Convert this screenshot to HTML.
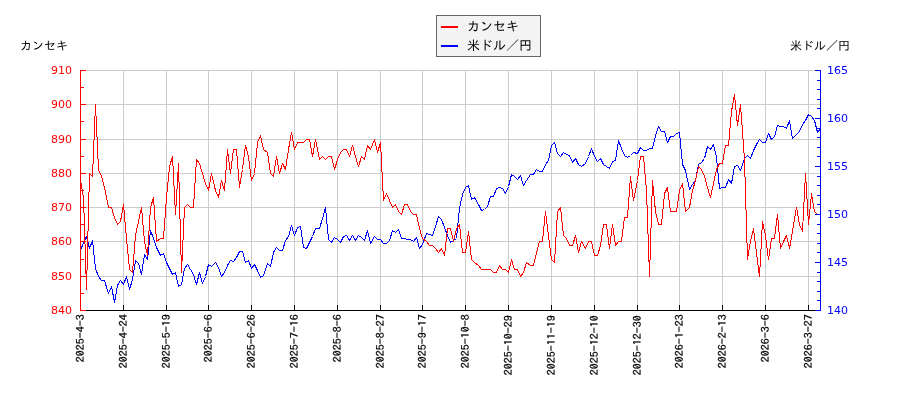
<!DOCTYPE html>
<html lang="ja"><head><meta charset="utf-8"><title>カンセキ と 米ドル／円</title>
<style>
html,body{margin:0;padding:0;background:#fff;}
body{width:900px;height:400px;overflow:hidden;}
svg{display:block;}
.jp{font-family:"IPAGothic","Noto Sans CJK JP",sans-serif;font-size:12px;fill:#000;}
.yl{font-family:"DejaVu Sans","Liberation Sans",sans-serif;font-size:11px;}
.xl{font-family:"IPAGothic","Noto Sans CJK JP",monospace;font-size:12px;fill:#000;stroke:#000;stroke-width:0.25px;}
</style></head><body>
<svg width="900" height="400" viewBox="0 0 900 400">
<rect width="900" height="400" fill="#fff"/>
<path d="M123.5 70.0V310.5M166.5 70.0V310.5M208.5 70.0V310.5M251.5 70.0V310.5M294.5 70.0V310.5M337.5 70.0V310.5M380.5 70.0V310.5M422.5 70.0V310.5M465.5 70.0V310.5M508.5 70.0V310.5M551.5 70.0V310.5M594.5 70.0V310.5M637.5 70.0V310.5M679.5 70.0V310.5M722.5 70.0V310.5M765.5 70.0V310.5M808.5 70.0V310.5M80.5 276.5H820.5M80.5 241.5H820.5M80.5 207.5H820.5M80.5 173.5H820.5M80.5 139.5H820.5M80.5 104.5H820.5M80.5 70.5H820.5" stroke="#cccccc" stroke-width="1" fill="none" shape-rendering="crispEdges"/>
<path d="M80.50 250.50L83.50 242.50L86.50 236.50L89.50 248.50L92.50 240.50L95.50 268.50L98.50 276.50L101.50 280.50L104.50 280.50L108.50 293.50L111.50 286.50L114.50 302.50L117.50 285.50L120.50 280.50L123.50 284.50L126.50 276.50L129.50 289.50L132.50 279.50L135.50 260.50L138.50 263.50L141.50 274.50L144.50 254.50L147.50 259.50L150.50 230.50L153.50 238.50L156.50 247.50L160.50 255.50L163.50 253.50L166.50 262.50L169.50 268.50L172.50 274.50L175.50 272.50L178.50 286.50L181.50 284.50L184.50 268.50L187.50 264.50L190.50 269.50L193.50 274.50L196.50 284.50L199.50 272.50L202.50 283.50L205.50 276.50L208.50 264.50L211.50 266.50L215.50 262.50L218.50 267.50L221.50 276.50L224.50 272.50L227.50 265.50L230.50 260.50L233.50 261.50L236.50 257.50L239.50 251.50L242.50 251.50L245.50 262.50L248.50 260.50L251.50 268.50L254.50 264.50L257.50 270.50L260.50 277.50L263.50 275.50L267.50 263.50L270.50 266.50L273.50 252.50L276.50 247.50L279.50 250.50L282.50 250.50L285.50 240.50L288.50 236.50L291.50 225.50L294.50 235.50L297.50 227.50L300.50 226.50L303.50 247.50L306.50 248.50L309.50 242.50L312.50 236.50L315.50 228.50L319.50 228.50L322.50 218.50L325.50 207.50L328.50 239.50L331.50 242.50L334.50 237.50L337.50 239.50L340.50 242.50L343.50 236.50L346.50 235.50L349.50 240.50L352.50 235.50L355.50 240.50L358.50 235.50L361.50 237.50L364.50 240.50L367.50 230.50L370.50 243.50L374.50 236.50L377.50 239.50L380.50 239.50L383.50 243.50L386.50 243.50L389.50 240.50L392.50 230.50L395.50 232.50L398.50 229.50L401.50 238.50L404.50 238.50L407.50 239.50L410.50 239.50L413.50 241.50L416.50 237.50L419.50 248.50L422.50 244.50L426.50 233.50L429.50 234.50L432.50 235.50L435.50 226.50L438.50 216.50L441.50 219.50L444.50 227.50L447.50 235.50L450.50 242.50L453.50 240.50L456.50 238.50L459.50 208.50L462.50 194.50L465.50 187.50L468.50 185.50L471.50 199.50L474.50 197.50L478.50 204.50L481.50 210.50L484.50 209.50L487.50 206.50L490.50 196.50L493.50 196.50L496.50 188.50L499.50 187.50L502.50 188.50L505.50 193.50L508.50 186.50L511.50 174.50L514.50 176.50L517.50 179.50L520.50 175.50L523.50 185.50L526.50 180.50L530.50 174.50L533.50 174.50L536.50 169.50L539.50 171.50L542.50 171.50L545.50 164.50L548.50 160.50L551.50 145.50L554.50 142.50L557.50 153.50L560.50 156.50L563.50 152.50L566.50 154.50L569.50 155.50L572.50 162.50L575.50 158.50L578.50 164.50L581.50 166.50L585.50 163.50L588.50 156.50L591.50 148.50L594.50 156.50L597.50 161.50L600.50 158.50L603.50 164.50L606.50 166.50L609.50 168.50L612.50 161.50L615.50 160.50L618.50 140.50L621.50 148.50L624.50 155.50L627.50 157.50L630.50 155.50L633.50 152.50L637.50 153.50L640.50 147.50L643.50 150.50L646.50 150.50L649.50 148.50L652.50 148.50L655.50 135.50L658.50 126.50L661.50 131.50L664.50 131.50L667.50 142.50L670.50 136.50L673.50 136.50L676.50 133.50L679.50 132.50L682.50 164.50L685.50 170.50L689.50 189.50L692.50 184.50L695.50 180.50L698.50 164.50L701.50 162.50L704.50 158.50L707.50 146.50L710.50 149.50L713.50 144.50L716.50 157.50L719.50 188.50L722.50 187.50L725.50 187.50L728.50 179.50L731.50 183.50L734.50 166.50L737.50 165.50L740.50 170.50L744.50 158.50L747.50 155.50L750.50 158.50L753.50 150.50L756.50 144.50L759.50 139.50L762.50 142.50L765.50 142.50L768.50 133.50L771.50 139.50L774.50 136.50L777.50 125.50L780.50 126.50L783.50 126.50L786.50 128.50L789.50 120.50L792.50 138.50L796.50 134.50L799.50 131.50L802.50 124.50L805.50 120.50L808.50 114.50L811.50 116.50L814.50 120.50L817.50 132.50L820.50 128.50" stroke="#0000ff" stroke-width="1" fill="none" stroke-linejoin="round" shape-rendering="crispEdges"/>
<path d="M80.50 180.50L83.50 197.50L86.50 289.50L89.50 173.50L92.50 176.50L95.50 104.50L98.50 169.50L101.50 176.50L104.50 187.50L108.50 207.50L111.50 207.50L114.50 217.50L117.50 224.50L120.50 221.50L123.50 204.50L126.50 238.50L129.50 269.50L132.50 272.50L135.50 235.50L138.50 221.50L141.50 207.50L144.50 241.50L147.50 255.50L150.50 207.50L153.50 197.50L156.50 241.50L160.50 238.50L163.50 238.50L166.50 197.50L169.50 166.50L172.50 156.50L175.50 214.50L178.50 163.50L181.50 272.50L184.50 207.50L187.50 204.50L190.50 207.50L193.50 207.50L196.50 159.50L199.50 163.50L202.50 173.50L205.50 183.50L208.50 190.50L211.50 173.50L215.50 190.50L218.50 197.50L221.50 180.50L224.50 190.50L227.50 149.50L230.50 173.50L233.50 149.50L236.50 149.50L239.50 187.50L242.50 169.50L245.50 145.50L248.50 156.50L251.50 180.50L254.50 173.50L257.50 142.50L260.50 135.50L263.50 149.50L267.50 152.50L270.50 173.50L273.50 176.50L276.50 156.50L279.50 173.50L282.50 163.50L285.50 169.50L288.50 149.50L291.50 132.50L294.50 149.50L297.50 142.50L300.50 142.50L303.50 142.50L306.50 139.50L309.50 139.50L312.50 156.50L315.50 139.50L319.50 159.50L322.50 156.50L325.50 159.50L328.50 156.50L331.50 156.50L334.50 169.50L337.50 159.50L340.50 152.50L343.50 149.50L346.50 149.50L349.50 156.50L352.50 145.50L355.50 156.50L358.50 166.50L361.50 156.50L364.50 159.50L367.50 145.50L370.50 149.50L374.50 139.50L377.50 152.50L380.50 142.50L383.50 200.50L386.50 193.50L389.50 200.50L392.50 207.50L395.50 204.50L398.50 211.50L401.50 214.50L404.50 204.50L407.50 204.50L410.50 211.50L413.50 214.50L416.50 214.50L419.50 228.50L422.50 238.50L426.50 241.50L429.50 245.50L432.50 245.50L435.50 248.50L438.50 252.50L441.50 248.50L444.50 255.50L447.50 228.50L450.50 228.50L453.50 241.50L456.50 228.50L459.50 224.50L462.50 252.50L465.50 252.50L468.50 231.50L471.50 259.50L474.50 262.50L478.50 265.50L481.50 269.50L484.50 269.50L487.50 269.50L490.50 269.50L493.50 272.50L496.50 272.50L499.50 265.50L502.50 269.50L505.50 269.50L508.50 272.50L511.50 259.50L514.50 269.50L517.50 269.50L520.50 276.50L523.50 272.50L526.50 262.50L530.50 265.50L533.50 265.50L536.50 252.50L539.50 241.50L542.50 241.50L545.50 211.50L548.50 235.50L551.50 259.50L554.50 262.50L557.50 211.50L560.50 207.50L563.50 235.50L566.50 238.50L569.50 245.50L572.50 245.50L575.50 235.50L578.50 252.50L581.50 241.50L585.50 248.50L588.50 241.50L591.50 241.50L594.50 255.50L597.50 255.50L600.50 245.50L603.50 224.50L606.50 224.50L609.50 248.50L612.50 224.50L615.50 245.50L618.50 241.50L621.50 241.50L624.50 217.50L627.50 217.50L630.50 176.50L633.50 200.50L637.50 180.50L640.50 156.50L643.50 156.50L646.50 190.50L649.50 276.50L652.50 180.50L655.50 211.50L658.50 224.50L661.50 224.50L664.50 193.50L667.50 187.50L670.50 211.50L673.50 211.50L676.50 211.50L679.50 190.50L682.50 183.50L685.50 211.50L689.50 207.50L692.50 190.50L695.50 180.50L698.50 166.50L701.50 169.50L704.50 176.50L707.50 187.50L710.50 197.50L713.50 183.50L716.50 169.50L719.50 163.50L722.50 163.50L725.50 145.50L728.50 145.50L731.50 111.50L734.50 94.50L737.50 125.50L740.50 104.50L744.50 159.50L747.50 259.50L750.50 241.50L753.50 228.50L756.50 252.50L759.50 276.50L762.50 221.50L765.50 235.50L768.50 259.50L771.50 238.50L774.50 238.50L777.50 214.50L780.50 248.50L783.50 241.50L786.50 235.50L789.50 248.50L792.50 231.50L796.50 207.50L799.50 224.50L802.50 231.50L805.50 173.50L808.50 224.50L811.50 193.50L814.50 211.50L817.50 214.50L820.50 214.50" stroke="#ff0000" stroke-width="1" fill="none" stroke-linejoin="round" shape-rendering="crispEdges"/>
<path d="M80.0 310.5H821.0M80.5 305.0V310.5M123.5 305.0V310.5M166.5 305.0V310.5M208.5 305.0V310.5M251.5 305.0V310.5M294.5 305.0V310.5M337.5 305.0V310.5M380.5 305.0V310.5M422.5 305.0V310.5M465.5 305.0V310.5M508.5 305.0V310.5M551.5 305.0V310.5M594.5 305.0V310.5M637.5 305.0V310.5M679.5 305.0V310.5M722.5 305.0V310.5M765.5 305.0V310.5M808.5 305.0V310.5" stroke="#000" stroke-width="1" fill="none" shape-rendering="crispEdges"/>
<path d="M80.5 70.0V311.0M80.5 310.5h5.5M80.5 293.5h3.5M80.5 276.5h5.5M80.5 259.5h3.5M80.5 241.5h5.5M80.5 224.5h3.5M80.5 207.5h5.5M80.5 190.5h3.5M80.5 173.5h5.5M80.5 156.5h3.5M80.5 139.5h5.5M80.5 121.5h3.5M80.5 104.5h5.5M80.5 87.5h3.5M80.5 70.5h5.5" stroke="#ff0000" stroke-width="1" fill="none" shape-rendering="crispEdges"/>
<path d="M820.5 70.0V311.0M820.5 310.5h-5.5M820.5 300.5h-3.5M820.5 291.5h-3.5M820.5 281.5h-3.5M820.5 272.5h-3.5M820.5 262.5h-5.5M820.5 252.5h-3.5M820.5 243.5h-3.5M820.5 233.5h-3.5M820.5 224.5h-3.5M820.5 214.5h-5.5M820.5 204.5h-3.5M820.5 195.5h-3.5M820.5 185.5h-3.5M820.5 176.5h-3.5M820.5 166.5h-5.5M820.5 156.5h-3.5M820.5 147.5h-3.5M820.5 137.5h-3.5M820.5 128.5h-3.5M820.5 118.5h-5.5M820.5 108.5h-3.5M820.5 99.5h-3.5M820.5 89.5h-3.5M820.5 80.5h-3.5M820.5 70.5h-5.5" stroke="#0000ff" stroke-width="1" fill="none" shape-rendering="crispEdges"/>
<text class="yl" x="72" y="314.0" text-anchor="end" fill="#ff0000">840</text>
<text class="yl" x="72" y="279.7" text-anchor="end" fill="#ff0000">850</text>
<text class="yl" x="72" y="245.4" text-anchor="end" fill="#ff0000">860</text>
<text class="yl" x="72" y="211.1" text-anchor="end" fill="#ff0000">870</text>
<text class="yl" x="72" y="176.9" text-anchor="end" fill="#ff0000">880</text>
<text class="yl" x="72" y="142.6" text-anchor="end" fill="#ff0000">890</text>
<text class="yl" x="72" y="108.3" text-anchor="end" fill="#ff0000">900</text>
<text class="yl" x="72" y="74.0" text-anchor="end" fill="#ff0000">910</text>
<text class="yl" x="827" y="314.0" fill="#0000ff">140</text>
<text class="yl" x="827" y="266.0" fill="#0000ff">145</text>
<text class="yl" x="827" y="218.0" fill="#0000ff">150</text>
<text class="yl" x="827" y="170.0" fill="#0000ff">155</text>
<text class="yl" x="827" y="122.0" fill="#0000ff">160</text>
<text class="yl" x="827" y="74.0" fill="#0000ff">165</text>
<text class="xl" text-anchor="end" transform="translate(84.0 314.2) rotate(-90) scale(1,0.88)">2025-4-3</text>
<text class="xl" text-anchor="end" transform="translate(127.0 314.2) rotate(-90) scale(1,0.88)">2025-4-24</text>
<text class="xl" text-anchor="end" transform="translate(170.0 314.2) rotate(-90) scale(1,0.88)">2025-5-19</text>
<text class="xl" text-anchor="end" transform="translate(212.0 314.2) rotate(-90) scale(1,0.88)">2025-6-6</text>
<text class="xl" text-anchor="end" transform="translate(255.0 314.2) rotate(-90) scale(1,0.88)">2025-6-26</text>
<text class="xl" text-anchor="end" transform="translate(298.0 314.2) rotate(-90) scale(1,0.88)">2025-7-16</text>
<text class="xl" text-anchor="end" transform="translate(341.0 314.2) rotate(-90) scale(1,0.88)">2025-8-6</text>
<text class="xl" text-anchor="end" transform="translate(384.0 314.2) rotate(-90) scale(1,0.88)">2025-8-27</text>
<text class="xl" text-anchor="end" transform="translate(426.0 314.2) rotate(-90) scale(1,0.88)">2025-9-17</text>
<text class="xl" text-anchor="end" transform="translate(469.0 314.2) rotate(-90) scale(1,0.88)">2025-10-8</text>
<text class="xl" text-anchor="end" transform="translate(512.0 315.2) rotate(-90) scale(1,0.88)">2025-10-29</text>
<text class="xl" text-anchor="end" transform="translate(555.0 315.2) rotate(-90) scale(1,0.88)">2025-11-19</text>
<text class="xl" text-anchor="end" transform="translate(598.0 315.2) rotate(-90) scale(1,0.88)">2025-12-10</text>
<text class="xl" text-anchor="end" transform="translate(641.0 315.2) rotate(-90) scale(1,0.88)">2025-12-30</text>
<text class="xl" text-anchor="end" transform="translate(683.0 314.2) rotate(-90) scale(1,0.88)">2026-1-23</text>
<text class="xl" text-anchor="end" transform="translate(726.0 314.2) rotate(-90) scale(1,0.88)">2026-2-13</text>
<text class="xl" text-anchor="end" transform="translate(769.0 314.2) rotate(-90) scale(1,0.88)">2026-3-6</text>
<text class="xl" text-anchor="end" transform="translate(812.0 314.2) rotate(-90) scale(1,0.88)">2026-3-27</text>
<text class="jp" x="20" y="50">カンセキ</text>
<text class="jp" x="790" y="50">米ドル／円</text>
<rect x="436.5" y="15.5" width="104" height="41" fill="#f4f4f4" stroke="#666" stroke-width="1" shape-rendering="crispEdges"/>
<path d="M441 27H458" stroke="#ff0000" stroke-width="2" shape-rendering="crispEdges"/>
<path d="M441 46H458" stroke="#0000ff" stroke-width="2" shape-rendering="crispEdges"/>
<text class="jp" style="font-size:13px" x="467" y="31">カンセキ</text>
<text class="jp" style="font-size:13px" x="467" y="50">米ドル／円</text>
</svg></body></html>
